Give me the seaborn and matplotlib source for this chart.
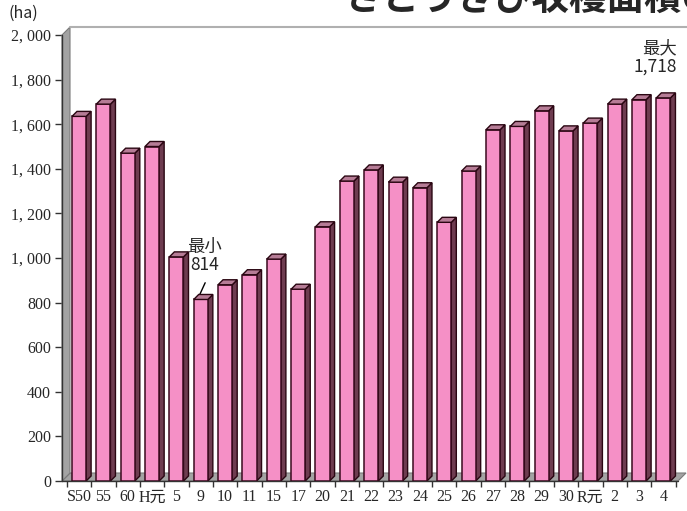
import numpy as np
import pandas as pd
import seaborn as sns
import matplotlib.pyplot as plt
from matplotlib.patches import Polygon

# harvested area of sugarcane (ha)
years = ['S50', '55', '60', 'H元', '5', '9', '10', '11', '15', '17', '20', '21', '22',
         '23', '24', '25', '26', '27', '28', '29', '30', 'R元', '2', '3', '4']
area = [1635, 1690, 1470, 1500, 1005, 814, 880, 925, 995, 860, 1140, 1345, 1395,
        1340, 1315, 1160, 1390, 1575, 1590, 1660, 1570, 1605, 1690, 1710, 1718]
yticks = [0, 200, 400, 600, 800, 1000, 1200, 1400, 1600, 1800, 2000]

df = pd.DataFrame({'year': years, 'area': area})

sns.set_theme(style='white')
plt.rcParams['font.family'] = ['Noto Sans CJK JP', 'DejaVu Sans']

W, H = 687, 511
fig = plt.figure(figsize=(W / 100, H / 100), dpi=100)
# plot area in pixels
x0, x1, ytop, ybot = 62, 678, 35, 481
ax = fig.add_axes([x0 / W, 1 - ybot / H, (x1 - x0) / W, (ybot - ytop) / H])

sns.barplot(data=df, x='year', y='area', color='#f590c6', saturation=1,
            width=0.58, edgecolor='#3a0a1e', linewidth=1.1, ax=ax, zorder=3)

n = len(years)
ax.set_ylim(0, 2000)
ax.set_xlim(-0.7, n - 0.4)
ax.set_xlabel('')
ax.set_ylabel('')
for s in ax.spines.values():
    s.set_visible(False)

# 3D look: depth offset in px -> data units
dpx = 5
dx = dpx * (n + 0.3) / (x1 - x0)
dy = dpx * 2000 / (ybot - ytop)
left = -0.7
right = n - 0.4

# floor and left wall
ax.add_patch(Polygon([(left, 0), (right, 0), (right + dx * 1.6, dy * 1.6),
                      (left + dx * 1.6, dy * 1.6)], closed=True, facecolor='#a3a3a3',
                     edgecolor='#7a7a7a', lw=0.8, zorder=1, clip_on=False))
ax.add_patch(Polygon([(left, 0), (left, 2000), (left + dx * 1.6, 2000 + dy * 1.6),
                      (left + dx * 1.6, dy * 1.6)], closed=True, facecolor='#a3a3a3',
                     edgecolor='#7a7a7a', lw=0.8, zorder=1, clip_on=False))
# back wall top edge
ax.plot([left + dx * 1.6, n + 0.2], [2000 + dy * 1.6, 2000 + dy * 1.6],
        color='#b0b0b0', lw=1.5, clip_on=False, zorder=1)
ax.plot([left, left], [0, 2000], color='#333333', lw=1, clip_on=False, zorder=2)
ax.plot([left, right], [0, 0], color='#333333', lw=1, clip_on=False, zorder=2)

for p in list(ax.patches):
    if p.get_zorder() != 3:
        continue
    bx, bw, bh = p.get_x(), p.get_width(), p.get_height()
    side = Polygon([(bx + bw, 0), (bx + bw + dx, dy), (bx + bw + dx, bh + dy), (bx + bw, bh)],
                   closed=True, facecolor='#6e3c50', edgecolor='#2a0612', lw=1.0, zorder=2.9)
    top = Polygon([(bx, bh), (bx + dx, bh + dy), (bx + bw + dx, bh + dy), (bx + bw, bh)],
                  closed=True, facecolor='#b67c96', edgecolor='#2a0612', lw=1.0, zorder=3.1)
    ax.add_patch(side)
    ax.add_patch(top)

ax.set_yticks(yticks)
ax.set_yticklabels([f'{v:,}'.replace(',', ', ') for v in yticks],
                   family=['Liberation Serif', 'Noto Sans CJK JP'], fontsize=11.5)
ax.set_xticks(range(n))
ax.set_xticklabels(years, family=['Liberation Serif', 'Noto Sans CJK JP'], fontsize=11.5)
ax.tick_params(axis='y', left=True, length=5, width=1, color='#333333', pad=3)
ax.set_xticks(np.arange(-0.5, n, 1), minor=True)
ax.tick_params(axis='x', which='minor', bottom=True, length=4, width=1, color='#333333')
ax.tick_params(axis='x', which='major', length=0, pad=6)

# min / max annotations
i_min = int(np.argmin(area))
i_max = int(np.argmax(area))
ax.text(i_min + 0.15, area[i_min] + 115, f'最小\n{area[i_min]:,}', ha='center', va='bottom',
        fontsize=12.5, linespacing=1.0)
ax.plot([i_min - 0.05, i_min + 0.18], [area[i_min] + 20, area[i_min] + 75], color='black', lw=1)
ax.text(i_max + 0.55, area[i_max] + 100, f'最大\n{area[i_max]:,}', ha='right', va='bottom',
        fontsize=12.5, linespacing=1.0, multialignment='right')

fig.text(8 / W, 1 - 18 / H, '(ha)', fontsize=11.5, ha='left', va='baseline')
fig.text(345 / W, 1 - 10 / H, 'さとうきび収穫面積の推移', fontsize=27, fontweight='bold',
         ha='left', va='baseline')

fig.savefig('out.png', dpi=100)
